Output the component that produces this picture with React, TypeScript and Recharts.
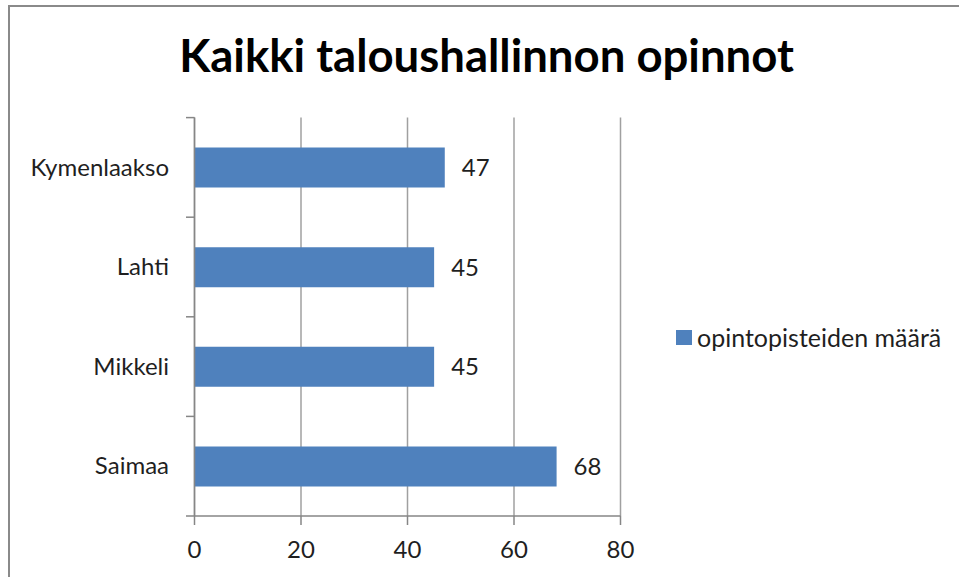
import React from 'react';
import { BarChart, Bar, XAxis, YAxis, CartesianGrid, Legend, LabelList } from 'recharts';

const title = 'Kaikki taloushallinnon opinnot';
const categories = ['Kymenlaakso', 'Lahti', 'Mikkeli', 'Saimaa'];
const values = [47, 45, 45, 68];
const seriesName = 'opintopisteiden määrä';
const xTicks = [0, 20, 40, 60, 80];

const data = categories.map((c, i) => ({ name: c, value: values[i] }));

const W = 959;
const H = 577;
const MARGIN = { top: 117.6, right: 338.5, bottom: 0, left: 0 };
const Y_AXIS_W = 194.5;
const X_AXIS_H = 61;
const FONT = 'Lato, "Open Sans", sans-serif';
const TEXT = '#1f1f1f';
const AXIS = '#868686';
const GRID = '#a0a0a0';
const BAR = '#4F81BD';

const plotTop = MARGIN.top;
const plotBottom = H - MARGIN.bottom - X_AXIS_H;
const band = (plotBottom - plotTop) / categories.length;
const axisX = MARGIN.left + Y_AXIS_W;

function CategoryTick(props: any) {
  const { x, y, payload, index } = props;
  const last = index === categories.length - 1;
  return (
    <g>
      <text x={x} y={y} dy="0.34em" textAnchor="end" fontFamily={FONT} fontSize={24} fill={TEXT}>
        {payload.value}
      </text>
      <line x1={axisX - 8.5} x2={axisX} y1={y - band / 2} y2={y - band / 2} stroke={AXIS} strokeWidth={1.5} />
      {last && (
        <line x1={axisX - 8.5} x2={axisX} y1={y + band / 2} y2={y + band / 2} stroke={AXIS} strokeWidth={1.5} />
      )}
    </g>
  );
}

function LegendContent() {
  return (
    <div style={{ display: 'flex', alignItems: 'center', fontFamily: FONT, fontSize: 25, color: TEXT, lineHeight: '30px', whiteSpace: 'nowrap' }}>
      <span style={{ display: 'inline-block', width: 16, height: 15, background: BAR, marginRight: 5 }} />
      <span>{seriesName}</span>
    </div>
  );
}

export default function App() {
  return (
    <div style={{ position: 'absolute', left: 0, top: 0, width: W, height: H, overflow: 'hidden', background: '#fff' }}>
      <div style={{ position: 'absolute', left: 8, top: 5, width: 3000, height: 3000, border: '2px solid #8a8a8a', boxSizing: 'border-box' }} />
      <svg style={{ position: 'absolute', left: 0, top: 0 }} width={W} height={100}>
        <text x={486.5} y={72} textAnchor="middle" fontFamily={FONT} fontWeight={700} fontSize={45.5} fill="#000">
          {title}
        </text>
      </svg>
      <div style={{ position: 'absolute', left: 0, top: 0 }}>
        <BarChart width={W} height={H} data={data} layout="vertical" margin={MARGIN}>
          <CartesianGrid horizontal={false} vertical={true} stroke={GRID} strokeWidth={1.5} />
          <XAxis
            type="number"
            domain={[0, 80]}
            ticks={xTicks}
            height={X_AXIS_H}
            tickSize={9}
            tickMargin={16}
            stroke={AXIS}
            axisLine={{ stroke: AXIS, strokeWidth: 1.5 }}
            tickLine={{ stroke: AXIS, strokeWidth: 1.5 }}
            tick={{ fontFamily: FONT, fontSize: 24, fill: TEXT }}
            interval={0}
          />
          <YAxis
            type="category"
            dataKey="name"
            width={Y_AXIS_W}
            tickLine={false}
            tickSize={0}
            tickMargin={25.5}
            axisLine={{ stroke: AXIS, strokeWidth: 1.5 }}
            tick={<CategoryTick />}
            interval={0}
          />
          <Legend
            layout="horizontal"
            verticalAlign="middle"
            align="center"
            wrapperStyle={{ left: 676, top: 322, width: 280 }}
            content={<LegendContent />}
          />
          <Bar dataKey="value" name={seriesName} fill={BAR} barSize={40} isAnimationActive={false}>
            <LabelList dataKey="value" position="right" offset={17} fontFamily={FONT} fontSize={24} fill={TEXT} />
          </Bar>
        </BarChart>
      </div>
    </div>
  );
}
